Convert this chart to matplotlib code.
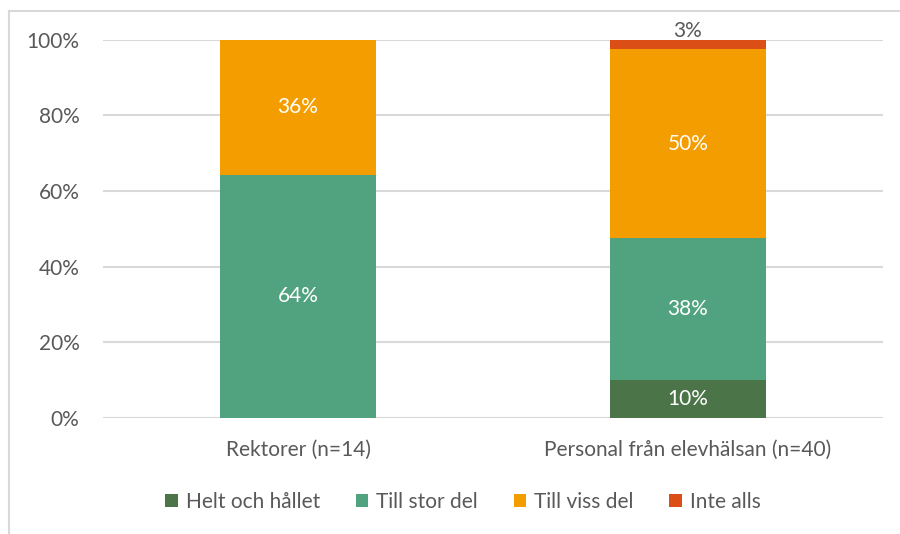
import numpy as np
import matplotlib.pyplot as plt
from matplotlib.lines import Line2D

plt.rcParams['font.family'] = ['Lato', 'DejaVu Sans']

# ---- data ----
categories = ['Rektorer (n=14)', 'Personal från elevhälsan (n=40)']
series = ['Helt och hållet', 'Till stor del', 'Till viss del', 'Inte alls']
helt = [0.0, 10.0]
stor = [64.3, 37.5]
viss = [35.7, 50.0]
inte = [0.0, 2.5]
values = [helt, stor, viss, inte]
colors = ['#4B7549', '#51A37F', '#F49D00', '#DB4E16']

fs = 15

fig = plt.figure(figsize=(9, 5.34), dpi=100)
ax = fig.add_axes([103 / 900, 1 - 418 / 534, 780 / 900, (418 - 39.5) / 534])

x = np.arange(len(categories))
bottom = np.zeros(len(categories))
for name, vals, col in zip(series, values, colors):
    vals = np.array(vals)
    ax.bar(x, vals, bottom=bottom, width=0.4, color=col, label=name, zorder=2)
    for xi, v, b in zip(x, vals, bottom):
        if v <= 0:
            continue
        lbl = f'{int(v + 0.5)}%'
        if v < 5:
            # liten andel: etikett ovanför stapeln
            ax.text(xi, b + v - 0.3, lbl, ha='center', va='bottom',
                    color='#595959', fontsize=fs)
        else:
            ax.text(xi, b + v / 2, lbl, ha='center', va='center',
                    color='white', fontsize=fs)
    bottom += vals

ax.set_xlim(-0.5, 1.5)
ax.set_ylim(0, 100)
ax.set_yticks(np.arange(0, 101, 20))
ax.set_yticklabels([f'{t}%' for t in range(0, 101, 20)])
ax.set_xticks(x)
ax.set_xticklabels(categories)
ax.tick_params(axis='both', length=0, labelsize=fs, labelcolor='#595959')
ax.tick_params(axis='y', pad=17)
ax.tick_params(axis='x', pad=16)
ax.grid(axis='y', color='#D9D9D9', linewidth=1.5, zorder=0)
for s in ax.spines.values():
    s.set_visible(False)

ax.legend(loc='center', bbox_to_anchor=((463 - 103) / 780, (418 - 502) / (418 - 39.5)), ncol=4,
          frameon=False, fontsize=fs, labelcolor='#595959', handlelength=0.6, handleheight=0.6,
          handletextpad=0.4, columnspacing=1.7)

# ram runt diagrammet
fig.add_artist(Line2D([9 / 900, 9 / 900], [0, 1 - 11 / 534], color='#D9D9D9', linewidth=1.5))
fig.add_artist(Line2D([9 / 900, 1], [1 - 11 / 534, 1 - 11 / 534], color='#D9D9D9', linewidth=1.5))

fig.savefig('out.png', dpi=100)
